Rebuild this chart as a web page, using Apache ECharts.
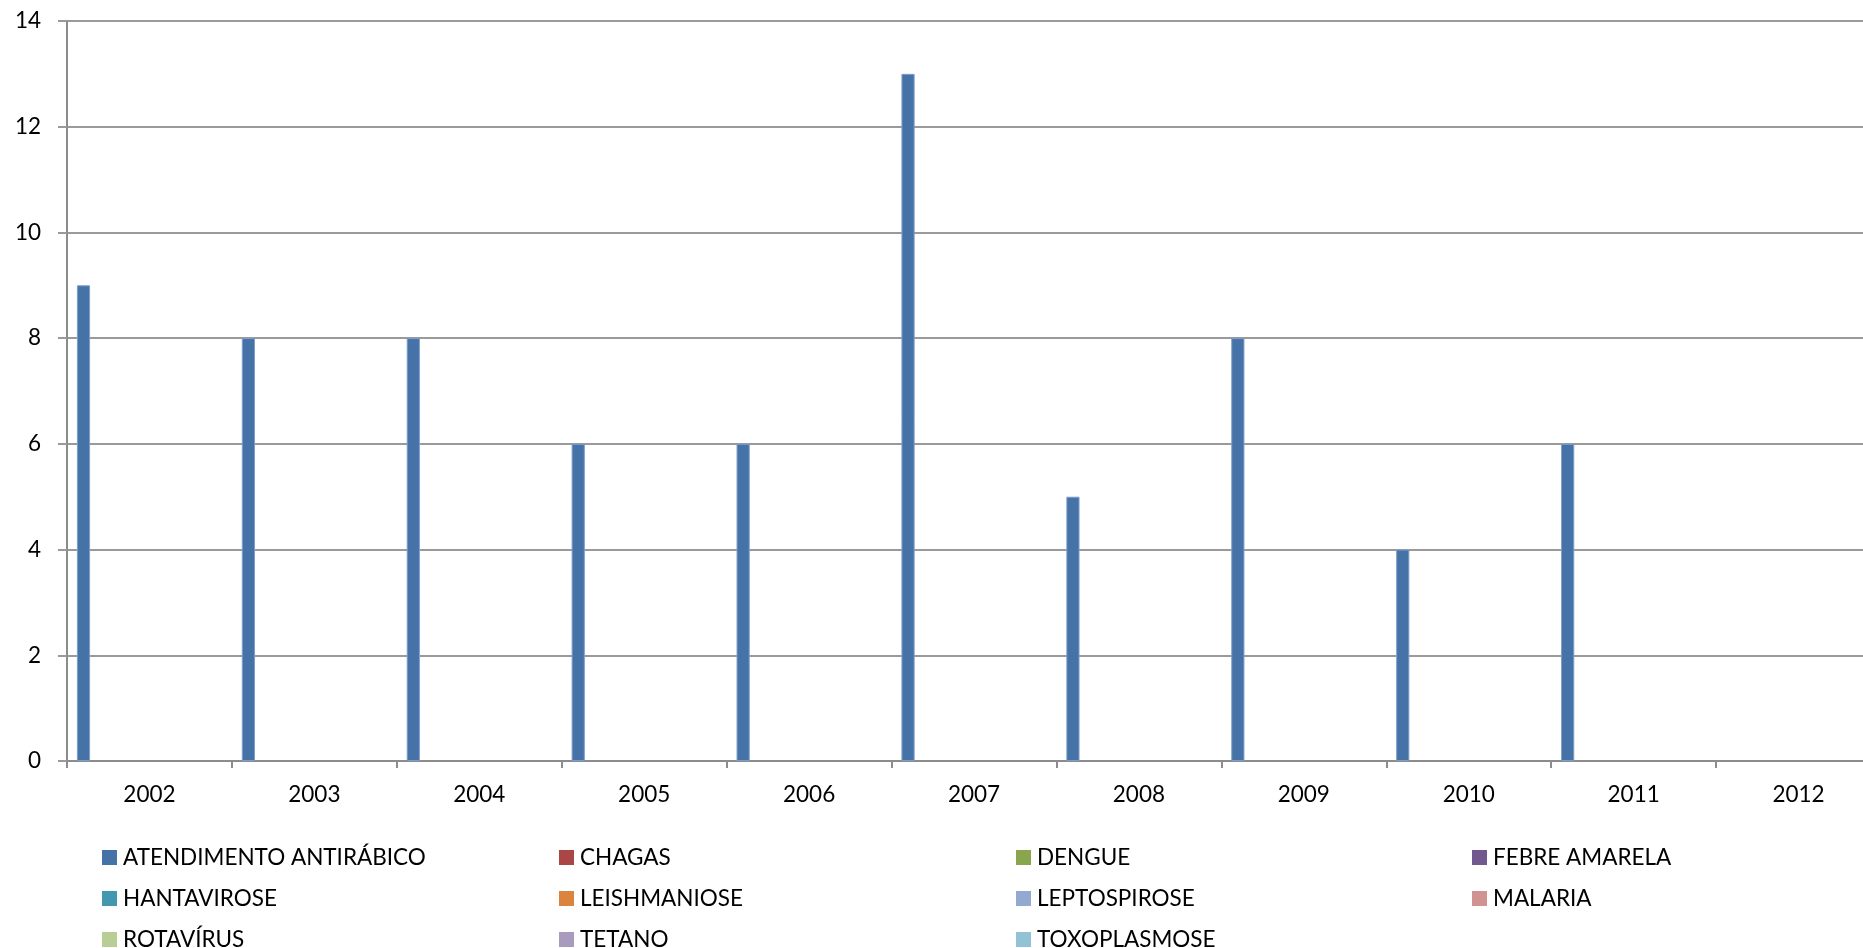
<!DOCTYPE html>
<html>
<head>
<meta charset="utf-8">
<script src="https://cdn.jsdelivr.net/npm/echarts@6/dist/echarts.min.js"></script>
<style>
  html, body { margin: 0; padding: 0; background: #ffffff; overflow: hidden; }
  /* canvas is a little wider than the window so the last category runs off the right edge */
  #chart { width: 1900px; height: 948px; }
</style>
</head>
<body>
<div id="chart"></div>
<script>
// Casos notificados por ano e agravo
const years = ['2002', '2003', '2004', '2005', '2006', '2007', '2008', '2009', '2010', '2011', '2012'];
const yTicks = { min: 0, max: 14, interval: 2 };

const atendimentoAntirabico = [9, 8, 8, 6, 6, 13, 5, 8, 4, 6, 0];
const chagas       = [0, 0, 0, 0, 0, 0, 0, 0, 0, 0, 0];
const dengue       = [0, 0, 0, 0, 0, 0, 0, 0, 0, 0, 0];
const febreAmarela = [0, 0, 0, 0, 0, 0, 0, 0, 0, 0, 0];
const hantavirose  = [0, 0, 0, 0, 0, 0, 0, 0, 0, 0, 0];
const leishmaniose = [0, 0, 0, 0, 0, 0, 0, 0, 0, 0, 0];
const leptospirose = [0, 0, 0, 0, 0, 0, 0, 0, 0, 0, 0];
const malaria      = [0, 0, 0, 0, 0, 0, 0, 0, 0, 0, 0];
const rotavirus    = [0, 0, 0, 0, 0, 0, 0, 0, 0, 0, 0];
const tetano       = [0, 0, 0, 0, 0, 0, 0, 0, 0, 0, 0];
const toxoplasmose = [0, 0, 0, 0, 0, 0, 0, 0, 0, 0, 0];

const seriesNames = ['ATENDIMENTO ANTIRÁBICO', 'CHAGAS', 'DENGUE', 'FEBRE AMARELA', 'HANTAVIROSE',
  'LEISHMANIOSE', 'LEPTOSPIROSE', 'MALARIA', 'ROTAVÍRUS', 'TETANO', 'TOXOPLASMOSE'];
const seriesData = [atendimentoAntirabico, chagas, dengue, febreAmarela, hantavirose,
  leishmaniose, leptospirose, malaria, rotavirus, tetano, toxoplasmose];
const colors = ['#4572A7', '#AA4643', '#89A54E', '#71588F', '#4198AF', '#DB843D',
  '#93A9CF', '#D19392', '#B9CD96', '#A99BBD', '#92C3D4'];

const FONT = 'Lato';
const textStyle = { fontFamily: FONT, fontSize: 22.5, color: '#000' };

// legend laid out in four columns, filled row by row
const legendColumns = [[], [], [], []];
seriesNames.forEach((n, i) => legendColumns[i % 4].push(n));
const columnLeft = [102, 559, 1016, 1472];

const chart = echarts.init(document.getElementById('chart'), null, { renderer: 'canvas' });

chart.setOption({
  backgroundColor: '#ffffff',
  color: colors,
  animation: false,
  grid: { left: 67, top: 21, width: 1814, height: 740, containLabel: false },
  legend: legendColumns.map((col, c) => ({
    data: col,
    orient: 'vertical',
    left: columnLeft[c],
    top: 846,
    height: 200,
    itemWidth: 15,
    itemHeight: 15,
    itemGap: 18,
    icon: 'rect',
    selectedMode: false,
    padding: 0,
    textStyle: Object.assign({}, textStyle, { lineHeight: 22, padding: [0, 0, 0, 1] })
  })),
  xAxis: {
    type: 'category',
    data: years,
    boundaryGap: true,
    axisLine: { lineStyle: { color: '#8c8c8c', width: 2 } },
    axisTick: { show: true, length: 7, alignWithLabel: false, lineStyle: { color: '#8c8c8c', width: 2 } },
    axisLabel: Object.assign({}, textStyle, { margin: 22 }),
    splitLine: { show: false }
  },
  yAxis: {
    type: 'value',
    min: yTicks.min,
    max: yTicks.max,
    interval: yTicks.interval,
    axisLine: { show: true, lineStyle: { color: '#8c8c8c', width: 2 } },
    axisTick: { show: true, length: 9, lineStyle: { color: '#9a9a9a', width: 2 } },
    axisLabel: Object.assign({}, textStyle, { margin: 26 }),
    splitLine: { show: true, lineStyle: { color: '#9a9a9a', width: 2 } }
  },
  series: seriesNames.map((name, i) => ({
    name: name,
    type: 'bar',
    data: seriesData[i].map(v => (i === 0 && v > 0)
      ? { value: v, itemStyle: { borderColor: '#7f9dcb', borderWidth: 1 } }
      : v),
    barGap: '0%',
    barCategoryGap: '12%',
    itemStyle: { color: colors[i] }
  }))
});
</script>
</body>
</html>
